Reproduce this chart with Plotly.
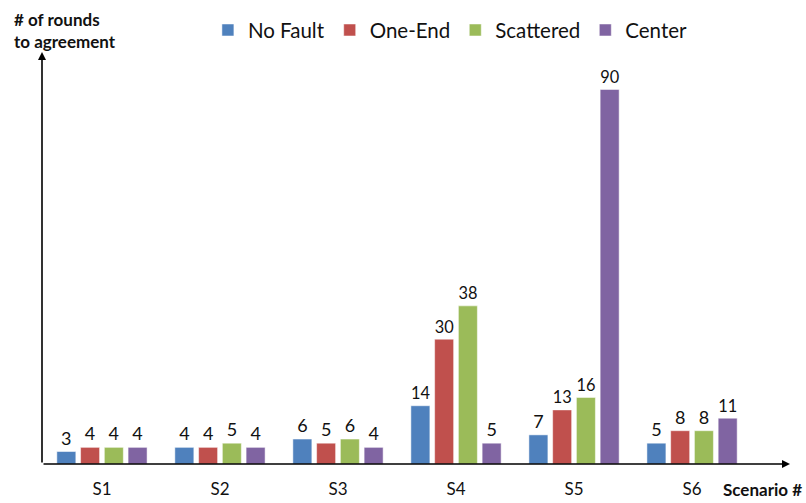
import plotly.graph_objects as go

scenarios = ["S1", "S2", "S3", "S4", "S5", "S6"]
no_fault = [3, 4, 6, 14, 7, 5]
one_end = [4, 4, 5, 30, 13, 8]
scattered = [4, 5, 6, 38, 16, 8]
center = [4, 4, 4, 5, 90, 11]

series = [
    ("No Fault", no_fault, "#4F81BD"),
    ("One-End", one_end, "#C0504D"),
    ("Scattered", scattered, "#9BBB59"),
    ("Center", center, "#8064A2"),
]

FONT = "Lato, 'Open Sans', sans-serif"
X_MIN, X_MAX = -0.508, 5.83
Y_MAX = 99

fig = go.Figure()
for name, vals, color in series:
    fig.add_trace(go.Bar(
        name=name, x=scenarios, y=vals,
        marker=dict(color=color, line=dict(color="rgba(255,255,255,0.5)", width=1)),
        text=[str(v) for v in vals], textposition="outside",
        textfont=dict(family=FONT, size=18, color="#111111"),
        cliponaxis=False,
    ))

fig.update_layout(
    width=806, height=503,
    margin=dict(l=42, r=16, t=52, b=39, autoexpand=False),
    paper_bgcolor="white", plot_bgcolor="white",
    barmode="group", bargap=0.195, bargroupgap=0.2,
    font=dict(family=FONT, size=18, color="#111111"),
    legend=dict(orientation="h", x=0.546, xanchor="center", y=1.053, yanchor="middle",
                font=dict(family=FONT, size=20.5, color="#111111"),
                itemclick=False, itemdoubleclick=False, traceorder="normal"),
    showlegend=True,
)

fig.update_xaxes(type="category", range=[X_MIN, X_MAX], showline=False, showgrid=False,
                 zeroline=False, ticks="outside", ticklen=10, tickcolor="rgba(0,0,0,0)",
                 automargin=False,
                 tickfont=dict(family=FONT, size=17, color="#111111"))
fig.update_yaxes(range=[0, Y_MAX], showline=False, showgrid=False, zeroline=False,
                 showticklabels=False, ticks="", automargin=False)

# Axis arrows
fig.add_annotation(x=X_MIN, y=Y_MAX, ax=X_MIN, ay=0, xref="x", yref="y", axref="x", ayref="y",
                   showarrow=True, arrowhead=2, arrowsize=1, arrowwidth=1.6,
                   arrowcolor="#000000", text="")
fig.add_annotation(x=X_MAX, y=0, ax=X_MIN, ay=0, xref="x", yref="y", axref="x", ayref="y",
                   showarrow=True, arrowhead=2, arrowsize=1, arrowwidth=1.6,
                   arrowcolor="#000000", text="")

# Axis titles
fig.add_annotation(x=-0.0401, y=1.053, xref="paper", yref="paper", xanchor="left",
                   yanchor="middle", align="left", showarrow=False,
                   text="<b># of rounds<br>to agreement</b>",
                   font=dict(family=FONT, size=17, color="#111111"))
fig.add_annotation(x=0.9626, y=-0.063, xref="paper", yref="paper", xanchor="center",
                   yanchor="middle", showarrow=False, text="<b>Scenario #</b>",
                   font=dict(family=FONT, size=17, color="#111111"))

fig.write_html("out.html")
